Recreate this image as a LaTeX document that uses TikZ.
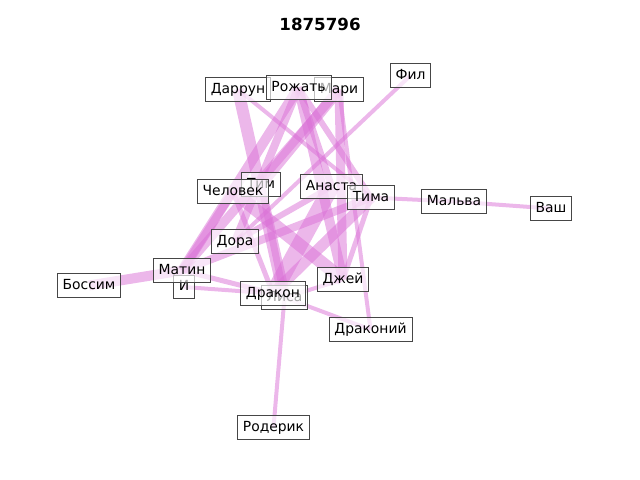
\documentclass[tikz,border=0pt]{standalone}
\usepackage{fontspec}
\setmainfont{DejaVu Sans}
\definecolor{orch}{RGB}{218,112,214}
\definecolor{boxedge}{RGB}{70,70,70}
\tikzset{
  lbl/.style={draw=boxedge, line width=0.7pt, fill=white, fill opacity=0.65, text opacity=1,
    inner xsep=3.9pt, inner ysep=3.6pt, text height=7.4pt, text depth=2.2pt, font=\fontsize{10}{12}\selectfont},
  ed/.style={draw=orch, draw opacity=0.5, line width=#1*0.72pt},
}
\begin{document}
\begin{tikzpicture}[x=0.72pt,y=-0.72pt]
\useasboundingbox (0,0) rectangle (640,480);
\node[font=\bfseries\fontsize{12}{14}\selectfont] (title) at (320,24) {1875796};
% node positions
\coordinate (Dar) at (238,89.5);
\coordinate (Roz) at (298.5,87.5);
\coordinate (Mar) at (339,89.5);
\coordinate (Fil) at (410.5,75.5);
\coordinate (Tim) at (261,184.5);
\coordinate (Che) at (233,191.5);
\coordinate (Ana) at (331.5,186.5);
\coordinate (Tma) at (371,197.5);
\coordinate (Mal) at (454,201.5);
\coordinate (Vas) at (551,208.5);
\coordinate (Dor) at (235,241.5);
\coordinate (Mat) at (182,270.5);
\coordinate (I) at (184,287);
\coordinate (Bos) at (89,285.5);
\coordinate (Dra) at (273,293.5);
\coordinate (Lis) at (284.5,297.5);
\coordinate (Dje) at (343,279.5);
\coordinate (Drk) at (370.5,329.5);
\coordinate (Rod) at (273.5,427.5);
% edges
\draw[ed=10] (Bos) -- (Mat);
\draw[ed=4] (Mal) -- (Vas);
\draw[ed=4] (Tma) -- (Mal);
\draw[ed=4] (Fil) -- (Dor);
\draw[ed=4] (Rod) -- (Lis);
\draw[ed=4] (Lis) -- (Drk);
\draw[ed=4] (Dje) -- (Lis);
\draw[ed=4] (Mar) -- (Drk);
\draw[ed=4] (I) -- (Dra);
\draw[ed=5] (Mat) -- (Dra);
\draw[ed=12] (Dar) -- (Lis);
\draw[ed=4] (Dar) -- (Tma);
\draw[ed=10] (Roz) -- (Mat);
\draw[ed=8] (Roz) -- (Dor);
\draw[ed=10] (Roz) -- (Dje);
\draw[ed=6] (Roz) -- (Tma);
\draw[ed=9] (Mar) -- (Mat);
\draw[ed=11] (Mar) -- (Tim);
\draw[ed=9] (Mar) -- (Dje);
\draw[ed=16] (Ana) -- (Dra);
\draw[ed=13] (Che) -- (Dje);
\draw[ed=8] (Mat) -- (Tma);
\draw[ed=8] (Che) -- (Mat);
\draw[ed=11] (Tma) -- (Dra);
\draw[ed=7] (Tim) -- (Lis);
\draw[ed=6] (Dor) -- (Ana);
\draw[ed=5] (Tma) -- (Dje);
\draw[ed=7] (Roz) -- (Ana);
\draw[ed=5] (Che) -- (Dra);
% labels
\node[lbl] (nDar) at (Dar) {Даррун};
\node[lbl] (nMar) at (Mar) {Мари};
\node[lbl] (nRoz) at (Roz) {Рожать};
\node[lbl] (nFil) at (Fil) {Фил};
\node[lbl] (nTim) at (Tim) {Тим};
\node[lbl] (nChe) at (Che) {Человек};
\node[lbl] (nAna) at (Ana) {Анаста};
\node[lbl] (nTma) at (Tma) {Тима};
\node[lbl] (nMal) at (Mal) {Мальва};
\node[lbl] (nVas) at (Vas) {Ваш};
\node[lbl] (nDor) at (Dor) {Дора};
\node[lbl] (nI) at (I) {И};
\node[lbl] (nMat) at (Mat) {Матин};
\node[lbl] (nBos) at (Bos) {Боссим};
\node[lbl] (nLis) at (Lis) {Лиса};
\node[lbl] (nDra) at (Dra) {Дракон};
\node[lbl] (nDje) at (Dje) {Джей};
\node[lbl] (nDrk) at (Drk) {Драконий};
\node[lbl] (nRod) at (Rod) {Родерик};
\end{tikzpicture}
\end{document}
